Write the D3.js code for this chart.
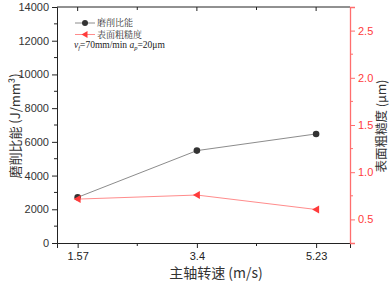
<!DOCTYPE html>
<html><head><meta charset="utf-8">
<script src="https://cdn.jsdelivr.net/npm/d3@7"></script>
<style>body{margin:0;background:#fff}svg{display:block}</style>
</head><body>
<svg id="c" width="389" height="283"></svg>
<script>
const speeds = [1.57, 3.4, 5.23];
const speedLabels = ["1.57", "3.4", "5.23"];
const energy = [2710, 5480, 6470];
const roughness = [0.715, 0.758, 0.605];
const leftTicks = [0, 2000, 4000, 6000, 8000, 10000, 12000, 14000];
const rightTicks = [0.5, 1.0, 1.5, 2.0, 2.5];

const svg = d3.select("#c");
const L = 57, R = 350, T = 7, B = 243;
const x = d3.scaleLinear().domain([1.253, 5.75]).range([L, R]);
const yL = d3.scaleLinear().domain([0, 14000]).range([B, T]);
const yR = d3.scaleLinear().domain([0.25, 2.75]).range([B, T]);
const red = "#ff3b3b", redLine = "#ff8c8c", axisRed = "#ff6e6e";
const font = "Arial, 'Liberation Sans', sans-serif";
const cjk = "'Noto Sans CJK SC', sans-serif";

// frame top
svg.append("line").attr("x1", L).attr("x2", R).attr("y1", T).attr("y2", T).attr("stroke", "#222").attr("stroke-width", 1);

// bottom axis
const minorX = [(speeds[0]+speeds[1])/2, (speeds[1]+speeds[2])/2];
const gB = svg.append("g").attr("transform", `translate(0,${B})`)
  .call(d3.axisBottom(x).tickValues(speeds).tickFormat((d,i)=>speedLabels[i]).tickSizeOuter(0).tickSize(5).tickPadding(4));
gB.select(".domain").attr("stroke", "#222");
gB.selectAll(".tick line").attr("stroke", "#222");
gB.selectAll("text").attr("font-family", font).attr("font-size", 11).attr("fill", "#222");
svg.append("g").attr("transform", `translate(0,${B})`).selectAll("line").data(minorX).join("line")
  .attr("x1", d=>x(d)).attr("x2", d=>x(d)).attr("y1", 0).attr("y2", 3).attr("stroke", "#222");
// top inward ticks
svg.append("g").attr("transform", `translate(0,${T})`).selectAll("line").data(speeds.concat(minorX)).join("line")
  .attr("x1", d=>x(d)).attr("x2", d=>x(d)).attr("y1", 0).attr("y2", (d,i)=> i<3 ? 4 : 3).attr("stroke", "#222");

// left axis
const gL = svg.append("g").attr("transform", `translate(${L},0)`)
  .call(d3.axisLeft(yL).tickValues(leftTicks).tickFormat(d3.format("d")).tickSizeOuter(0).tickSize(5).tickPadding(3));
gL.select(".domain").attr("stroke", "#222");
gL.selectAll(".tick line").attr("stroke", "#222");
gL.selectAll("text").attr("font-family", font).attr("font-size", 11).attr("fill", "#333");
const minorL = d3.range(1000, 14000, 2000);
svg.append("g").selectAll("line").data(minorL).join("line")
  .attr("x1", L-3).attr("x2", L).attr("y1", d=>yL(d)).attr("y2", d=>yL(d)).attr("stroke", "#222");

// right axis
const gR = svg.append("g").attr("transform", `translate(${R},0)`)
  .call(d3.axisRight(yR).tickValues(rightTicks).tickFormat(d3.format(".1f")).tickSizeOuter(0).tickSize(5).tickPadding(3));
gR.select(".domain").attr("stroke", axisRed).attr("stroke-width", 1.3);
gR.selectAll(".tick line").attr("stroke", axisRed);
gR.selectAll("text").attr("font-family", font).attr("font-size", 11).attr("fill", red);
const minorR = [0.75, 1.25, 1.75, 2.25];
svg.append("g").selectAll("line").data(minorR).join("line")
  .attr("x1", R).attr("x2", R+3).attr("y1", d=>yR(d)).attr("y2", d=>yR(d)).attr("stroke", axisRed);

// series: grinding energy
const idx = d3.range(speeds.length);
svg.append("path").datum(idx).attr("fill", "none").attr("stroke", "#8c8c8c").attr("stroke-width", 1)
  .attr("d", d3.line().x(i=>x(speeds[i])).y(i=>yL(energy[i])));
svg.append("g").selectAll("circle").data(idx).join("circle")
  .attr("cx", i=>x(speeds[i])).attr("cy", i=>yL(energy[i])).attr("r", 3.3).attr("fill", "#333");

// series: roughness
svg.append("path").datum(idx).attr("fill", "none").attr("stroke", redLine).attr("stroke-width", 1)
  .attr("d", d3.line().x(i=>x(speeds[i])).y(i=>yR(roughness[i])));
const tri = "M-4,0L3,-4L3,4Z";
svg.append("g").selectAll("path").data(idx).join("path")
  .attr("transform", i=>`translate(${x(speeds[i])},${yR(roughness[i])})`).attr("d", tri).attr("fill", red);

// legend
const lg = svg.append("g");
const lfont = "'Noto Serif CJK SC', 'Noto Sans CJK SC', serif";
lg.append("line").attr("x1", 75).attr("x2", 95).attr("y1", 23).attr("y2", 23).attr("stroke", "#8c8c8c");
lg.append("circle").attr("cx", 85).attr("cy", 23).attr("r", 3).attr("fill", "#333");
lg.append("text").attr("x", 97).attr("y", 26).text("磨削比能").attr("font-family", lfont).attr("font-size", 9).attr("fill", "#333");
lg.append("line").attr("x1", 75).attr("x2", 95).attr("y1", 34.5).attr("y2", 34.5).attr("stroke", redLine);
lg.append("path").attr("transform", "translate(85,34.5)").attr("d", "M-3.5,0L2.5,-3.5L2.5,3.5Z").attr("fill", red);
lg.append("text").attr("x", 97).attr("y", 37.5).text("表面粗糙度").attr("font-family", lfont).attr("font-size", 9).attr("fill", "#333");
const t3 = lg.append("text").attr("x", 74).attr("y", 48).attr("font-family", "'Liberation Serif', 'Times New Roman', serif").attr("font-size", 9.5).attr("fill", "#222");
t3.append("tspan").attr("font-style", "italic").text("v");
t3.append("tspan").attr("font-style", "italic").attr("font-size", 6.5).attr("dy", 2).text("f");
t3.append("tspan").attr("dy", -2).text("=70mm/min ");
t3.append("tspan").attr("font-style", "italic").text("a");
t3.append("tspan").attr("font-style", "italic").attr("font-size", 6.5).attr("dy", 2).text("p");
t3.append("tspan").attr("dy", -2).text("=20μm");

// axis titles
svg.append("text").attr("transform", "translate(20,126) rotate(-90)").attr("text-anchor", "middle")
  .attr("font-family", cjk).attr("font-size", 13).attr("fill", "#333").text("磨削比能 (J/mm³)");
svg.append("text").attr("transform", "translate(386,126) rotate(-90)").attr("text-anchor", "middle")
  .attr("font-family", cjk).attr("font-size", 12.5).attr("fill", "#333").text("表面粗糙度 (μm)");
svg.append("text").attr("x", 216).attr("y", 278).attr("text-anchor", "middle")
  .attr("font-family", cjk).attr("font-size", 14).attr("fill", "#333").text("主轴转速 (m/s)");
</script>
</body></html>
